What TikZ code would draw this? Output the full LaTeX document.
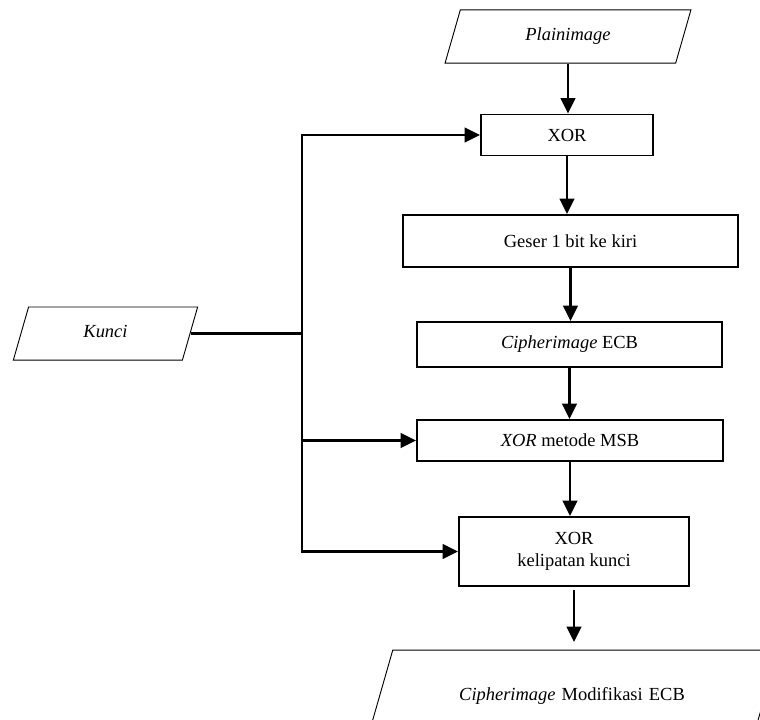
\documentclass[tikz,border=0pt]{standalone}
\usepackage{fontspec}
\setmainfont{Liberation Serif}
\usetikzlibrary{shapes.geometric,arrows.meta}

\begin{document}
\begin{tikzpicture}[x=0.65pt, y=-0.65pt,
        box/.style={draw, line width=1.2pt, align=center, font=\fontsize{12}{14}\selectfont},
        io/.style={draw, line width=0.6pt, trapezium, trapezium left angle=74, trapezium right angle=106,
            inner xsep=0pt, inner ysep=11.75pt, text height=8pt, text depth=3pt, align=center,
            text width=#1, font=\fontsize{12}{14}\selectfont},
        flow/.style={line width=1.5pt, -{Triangle[length=10pt, width=9.5pt]}},
        link/.style={line width=1.5pt}]
        % Page frame
        \clip (0,0) rectangle (760,719);

        % Input and key
        \node[io=140pt] (plain) at (568,36.5) {\textit{Plainimage}};
        \node[io=100pt] (kunci) at (105.5,333.5) {\textit{Kunci}};

        % Process steps
        \node[box, minimum width=111.8pt, minimum height=26.7pt] (xor) at (567,135) {XOR};
        \node[box, minimum width=217.8pt, minimum height=33.8pt] (geser) at (570.5,241) {Geser 1 bit ke kiri};
        \node[box, minimum width=198pt, minimum height=29.3pt] (ecb) at (569.5,344.5) {\textit{Cipherimage} ECB};
        \node[box, minimum width=199pt, minimum height=26.7pt] (msb) at (570,440.5) {\textit{XOR} metode MSB};
        \node[box, minimum width=149.5pt, minimum height=44.9pt] (kk) at (574,551.5) {XOR\\kelipatan kunci};

        % Output
        \node[io=233pt, inner ysep=25pt] (out) at (572,697) {\textit{Cipherimage} Modifikasi ECB};

        % Main flow
        \draw[flow] (plain.south) -- (plain.south |- xor.north);
        \draw[flow] (xor.south) -- (xor.south |- geser.north);
        \draw[flow] (geser.south) -- (geser.south |- ecb.north);
        \draw[flow] (ecb.south) -- (ecb.south |- msb.north);
        \draw[flow] (msb.south) -- (msb.south |- kk.north);
        \draw[flow, shorten <=2pt, shorten >=5pt] (kk.south) -- (kk.south |- out.north);

        % Key lines
        \coordinate (jt) at (302,135);
        \draw[line width=1.5pt, {Triangle[length=10pt, width=9.5pt]}-{Triangle[length=10pt, width=9.5pt]}]
            (kk.west) -| (jt) -- (xor.west);
        \draw[flow] (msb.west -| jt) -- (msb.west);
        \draw[link] (kunci.east) -- (kunci.east -| jt);
    \end{tikzpicture}
\end{document}
